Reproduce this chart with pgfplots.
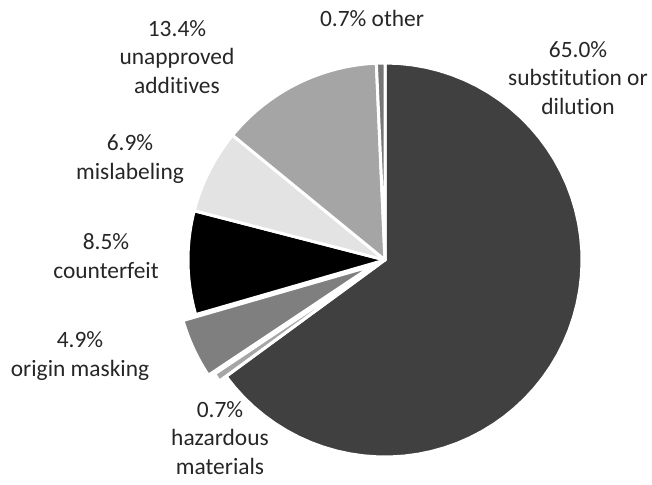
\documentclass[border=0pt]{standalone}
\usepackage{pgfplots}
\pgfplotsset{compat=1.18}
\usepackage{fontspec}
\setmainfont[Ligatures={NoCommon}]{Carlito}
\definecolor{csub}{HTML}{404040}
\definecolor{chaz}{HTML}{A6A6A6}
\definecolor{corig}{HTML}{7F7F7F}
\definecolor{ccnt}{HTML}{000000}
\definecolor{cmis}{HTML}{E3E3E3}
\definecolor{cadd}{HTML}{A5A5A5}
\definecolor{coth}{HTML}{767676}
\def\k{3.596404}% 360/100.1
\def\R{197}
\tikzset{lbl/.style={font=\fontsize{23.5}{29}\selectfont, align=center, text=black!85, inner sep=0pt}}
% start %, end %, colour, centre x, centre y
\newcommand\slice[5]{%
  \addplot[fill=#3, draw=white, line width=3bp, line join=round,
    domain={#1*\k}:{#2*\k}, samples=60, variable=\t]
    ({#4+\R*sin(\t)},{#5+\R*cos(\t)}) -- (axis cs:#4,#5) -- cycle;}
\begin{document}
\begin{tikzpicture}
\useasboundingbox (0,0) rectangle (652bp,485bp);
\begin{axis}[at={(0,0)}, anchor=south west, scale only axis,
  width=652bp, height=485bp, xmin=0, xmax=652, ymin=0, ymax=485,
  hide axis, clip=false]
% shares: 65.0, 0.7, 4.9, 8.5, 6.9, 13.4, 0.7
\slice{0}{65.0}{csub}{385}{225}
\slice{65.0}{65.7}{chaz}{378.4}{220.4}
\slice{65.7}{70.6}{corig}{372.3}{219.1}
\slice{70.6}{79.1}{ccnt}{385}{225}
\slice{79.1}{86.0}{cmis}{385}{225}
\slice{86.0}{99.4}{cadd}{385}{225}
\slice{99.4}{100.1}{coth}{385}{225}
\node[lbl] at (axis cs:578,407) {65.0\%\\substitution or\\dilution};
\node[lbl] at (axis cs:372,467) {0.7\% other};
\node[lbl] at (axis cs:177,428) {13.4\%\\unapproved\\additives};
\node[lbl] at (axis cs:130,326) {6.9\%\\mislabeling};
\node[lbl] at (axis cs:106,229) {8.5\%\\counterfeit};
\node[lbl] at (axis cs:80,129) {4.9\%\\origin masking};
\node[lbl] at (axis cs:220,47) {0.7\%\\hazardous\\materials};
\end{axis}
\end{tikzpicture}
\end{document}
